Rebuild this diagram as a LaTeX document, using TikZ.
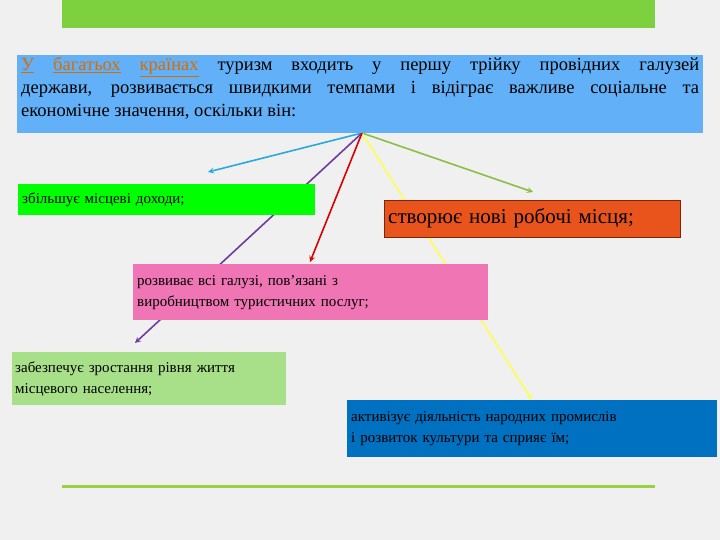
\documentclass[tikz,border=0pt]{standalone}
\usepackage{fontspec}
\setmainfont{Liberation Serif}
\definecolor{topgreen}{RGB}{125,209,62}
\definecolor{linegreen}{RGB}{154,209,62}
\begin{document}
\begin{tikzpicture}[x=1pt,y=-1pt,
  box/.style={anchor=north west,inner xsep=4pt,inner ysep=4pt,align=left,font=\fontsize{15}{21}\selectfont},
  arr/.style={-stealth,line width=1.6pt}]
\fill[gray!12] (0,0) rectangle (720,540);
\useasboundingbox (0,0) rectangle (720,540);
\fill[topgreen] (62,0) rectangle (655,28);
\coordinate (o) at (362,133);
\coordinate (c1) at (208,172);
\coordinate (c2) at (533,192);
\coordinate (c3) at (135,343);
\coordinate (c4) at (310,262);
\coordinate (c5) at (532,400);
\draw[arr,color={rgb,255:red,40;green,170;blue,220}] (o) -- (c1);
\draw[arr,color={rgb,255:red,140;green,190;blue,70}] (o) -- (c2);
\draw[arr,color={rgb,255:red,255;green,255;blue,80}] (o) -- (c5);
\draw[arr,color={rgb,255:red,110;green,60;blue,160}] (o) -- (c3);
\draw[arr,red!85!black] (o) -- (c4);
\node[fill={rgb,255:red,98;green,176;blue,247},minimum width=686pt,minimum height=78pt,anchor=north west,inner sep=0pt] (top) at (17,55) {};
\node[anchor=north west,text width=678pt,align=justify,inner sep=0pt,font=\fontsize{18.5}{23}\selectfont] (toptext) at (21,57)
 {{\color{orange!85!black}\underline{У}\ \underline{багатьох}\ \underline{країнах}} туризм входить у першу трійку провідних галузей\linebreak держави, розвивається швидкими темпами і відіграє важливе соціальне та\linebreak економічне значення, оскільки він:};
\node[box,fill={rgb,255:red,0;green,255;blue,0},text width=289pt,minimum height=31pt] (b1) at (18,184) {збільшує місцеві доходи;};
\node[box,draw={rgb,255:red,120;green,40;blue,10},fill={rgb,255:red,232;green,84;blue,28},text width=288pt,minimum height=37pt,font=\fontsize{21}{24}\selectfont,inner ysep=7pt] (b2) at (384,200) {створює нові робочі місця;};
\node[box,fill={rgb,255:red,240;green,117;blue,180},minimum height=56pt,text width=347pt] (b3) at (133,264) {розвиває всі галузі, пов'язані з\\виробництвом туристичних послуг;};
\node[box,fill={rgb,255:red,168;green,224;blue,138},minimum height=53pt,text width=268pt,inner xsep=3pt] (b4) at (12,352) {забезпечує зростання рівня життя\\місцевого населення;};
\node[box,fill={rgb,255:red,0;green,112;blue,192},minimum height=57pt,text width=362pt] (b5) at (347,400) {активізує діяльність народних промислів\\і розвиток культури та сприяє їм;};
\fill[linegreen] (62,485) rectangle (655,487.5);
\end{tikzpicture}
\end{document}
